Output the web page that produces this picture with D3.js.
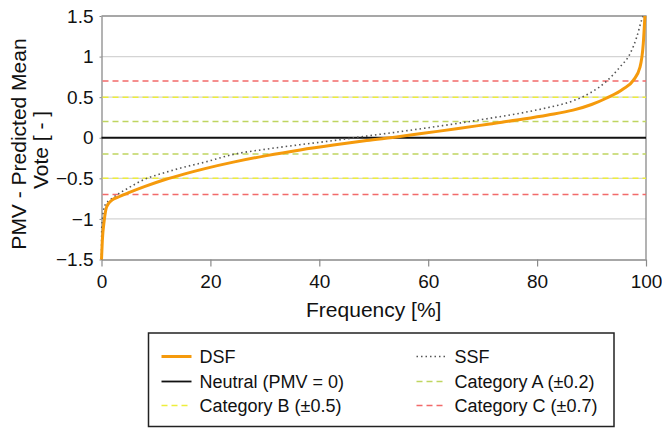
<!DOCTYPE html>
<html>
<head>
<meta charset="utf-8">
<script src="https://cdn.jsdelivr.net/npm/d3@7"></script>
<style>
  body { margin: 0; background: #fff; }
  svg { display: block; font-family: "Liberation Sans", Arial, sans-serif; }
</style>
</head>
<body>
<svg id="chart"></svg>
<script>
// data
const dsfFreq = [0, 0.15, 0.5, 0.95, 1.9, 3.1, 4.9, 8, 11.7, 15.3, 19, 24.2, 30.3, 36.5, 42.6, 48.7, 54.8, 59.1, 65.2, 71.3, 77.5, 82, 86.6, 90, 92.8, 95.8, 97.7, 98.9, 99.5, 99.8];
const dsfPmv = [-1.5, -1.27, -1.02, -0.85, -0.77, -0.73, -0.68, -0.6, -0.515, -0.445, -0.38, -0.3, -0.22, -0.15, -0.09, -0.035, 0.015, 0.055, 0.11, 0.17, 0.23, 0.28, 0.34, 0.41, 0.49, 0.6, 0.71, 0.87, 1.16, 1.5];
const ssfFreq = [0, 0.05, 0.64, 1.9, 4.9, 8, 11.1, 14.7, 19, 24.2, 30.3, 36.5, 42.6, 47.5, 54.8, 59.1, 65.2, 71.3, 77.5, 81.5, 86.6, 89.7, 92.8, 95.2, 97.1, 98.3, 99.2, 99.5];
const ssfPmv = [-1.5, -1.1, -0.83, -0.75, -0.62, -0.51, -0.44, -0.37, -0.3, -0.205, -0.14, -0.085, -0.035, 0.01, 0.075, 0.115, 0.175, 0.24, 0.31, 0.365, 0.455, 0.55, 0.7, 0.87, 1.04, 1.24, 1.45, 1.5];

const xTicks = [0, 20, 40, 60, 80, 100];
const yTicks = [-1.5, -1, -0.5, 0, 0.5, 1, 1.5];
const categoryNames = ['A', 'B', 'C'];
const categoryLimits = [0.2, 0.5, 0.7];
const legendLabels = ['DSF', 'SSF', 'Neutral (PMV = 0)', 'Category A (\u00b10.2)', 'Category B (\u00b10.5)', 'Category C (\u00b10.7)'];

// colors
const dsfColor = '#f59a0c';
const ssfColor = '#555';
const categoryColors = { A: '#bfd560', B: '#eded3c', C: '#f26a6a' };
const gridColor = '#d4d4d4';
const frameColor = '#8a8a8a';

const width = 662;
const height = 428;

const svg = d3.select('#chart')
    .attr('width', width)
    .attr('height', height);

const x = d3.scaleLinear().domain([0, 100]).range([101.5, 646]);
const y = d3.scaleLinear().domain([-1.5, 1.5]).range([259.5, 16]);

// gridlines
svg.append('g')
  .selectAll('line')
  .data(yTicks.filter(d => d !== 0 && Math.abs(d) < 1.5))
  .enter()
  .append('line')
    .attr('x1', x(0)).attr('x2', x(100))
    .attr('y1', d => y(d)).attr('y2', d => y(d))
    .attr('stroke', gridColor)
    .attr('stroke-width', 1.2);

// frame (top and right)
svg.append('path')
    .attr('d', `M${x(0)},${y(1.5)}H${x(100)}V${y(-1.5)}`)
    .attr('fill', 'none')
    .attr('stroke', frameColor)
    .attr('stroke-width', 1.3);

// x axis
const xAxis = svg.append('g')
    .attr('transform', `translate(0,${y(-1.5)})`)
    .call(d3.axisBottom(x).tickValues(xTicks).tickSize(7).tickSizeOuter(0).tickPadding(8));
xAxis.select('.domain').attr('stroke', frameColor).attr('stroke-width', 1.3);
xAxis.selectAll('.tick line').attr('stroke', frameColor).attr('stroke-width', 1.2);
xAxis.selectAll('text').attr('font-size', 19).attr('fill', '#111').attr('font-family', 'Liberation Sans, Arial, sans-serif');

// y axis
const yAxis = svg.append('g')
    .attr('transform', `translate(${x(0)},0)`)
    .call(d3.axisLeft(y).tickValues(yTicks).tickSize(2).tickSizeOuter(0).tickPadding(6).tickFormat(d3.format('')));
yAxis.select('.domain').attr('stroke', frameColor).attr('stroke-width', 1.3);
yAxis.selectAll('.tick line').attr('stroke', frameColor);
yAxis.selectAll('text').attr('font-size', 19).attr('fill', '#111').attr('font-family', 'Liberation Sans, Arial, sans-serif');

// category limits
const limits = [];
categoryNames.forEach((c, i) => {
  limits.push({ cat: c, v: categoryLimits[i] });
  limits.push({ cat: c, v: -categoryLimits[i] });
});
svg.append('g')
  .selectAll('line')
  .data(limits)
  .enter()
  .append('line')
    .attr('x1', x(0) + 1).attr('x2', x(100))
    .attr('y1', d => y(d.v)).attr('y2', d => y(d.v))
    .attr('stroke', d => categoryColors[d.cat])
    .attr('stroke-width', 1.5)
    .attr('stroke-dasharray', '6,4');

// neutral line
svg.append('line')
    .attr('x1', x(0)).attr('x2', x(100))
    .attr('y1', y(0)).attr('y2', y(0))
    .attr('stroke', '#111')
    .attr('stroke-width', 1.8);

const line = d3.line()
    .x(d => x(d[0]))
    .y(d => y(d[1]))
    .curve(d3.curveMonotoneX);

svg.append('path')
    .attr('d', line(d3.zip(ssfFreq, ssfPmv)))
    .attr('fill', 'none')
    .attr('stroke', ssfColor)
    .attr('stroke-width', 1.6)
    .attr('stroke-dasharray', '1.5,3');

svg.append('path')
    .attr('d', line(d3.zip(dsfFreq, dsfPmv)))
    .attr('fill', 'none')
    .attr('stroke', dsfColor)
    .attr('stroke-width', 3);

// axis titles
svg.append('text')
    .attr('x', (x(0) + x(100)) / 2)
    .attr('y', 317)
    .attr('text-anchor', 'middle')
    .attr('font-size', 21)
    .attr('fill', '#111')
    .text('Frequency [%]');

const yTitle = svg.append('text')
    .attr('transform', 'rotate(-90)')
    .attr('text-anchor', 'middle')
    .attr('font-size', 21)
    .attr('fill', '#111');
yTitle.append('tspan').attr('x', -144).attr('y', 26).text('PMV - Predicted Mean');
yTitle.append('tspan').attr('x', -150).attr('y', 48).text('Vote [ - ]');

// legend
const legend = svg.append('g');
legend.append('rect')
    .attr('x', 148.5).attr('y', 333)
    .attr('width', 465.5).attr('height', 93.5)
    .attr('fill', '#fff')
    .attr('stroke', '#222')
    .attr('stroke-width', 1.5);

const legendStyles = [
  { stroke: dsfColor, w: 3, dash: null },
  { stroke: ssfColor, w: 1.3, dash: '1.5,3' },
  { stroke: '#111', w: 1.8, dash: null },
  { stroke: categoryColors.A, w: 1.5, dash: '6,4' },
  { stroke: categoryColors.B, w: 1.5, dash: '6,4' },
  { stroke: categoryColors.C, w: 1.5, dash: '6,4' }
];
const colX = [161.5, 416.5];
const rowY = [356.5, 381.5, 405.5];

const items = legend.selectAll('g.item')
  .data(legendLabels)
  .enter()
  .append('g')
    .attr('class', 'item')
    .attr('transform', (d, i) => `translate(${colX[i % 2]},${rowY[Math.floor(i / 2)]})`);

items.append('line')
    .attr('x1', 0).attr('x2', 30)
    .attr('stroke', (d, i) => legendStyles[i].stroke)
    .attr('stroke-width', (d, i) => legendStyles[i].w)
    .attr('stroke-dasharray', (d, i) => legendStyles[i].dash);

items.append('text')
    .attr('x', 38)
    .attr('y', 6.8)
    .attr('font-size', 18)
    .attr('fill', '#111')
    .text(d => d);
</script>
</body>
</html>
